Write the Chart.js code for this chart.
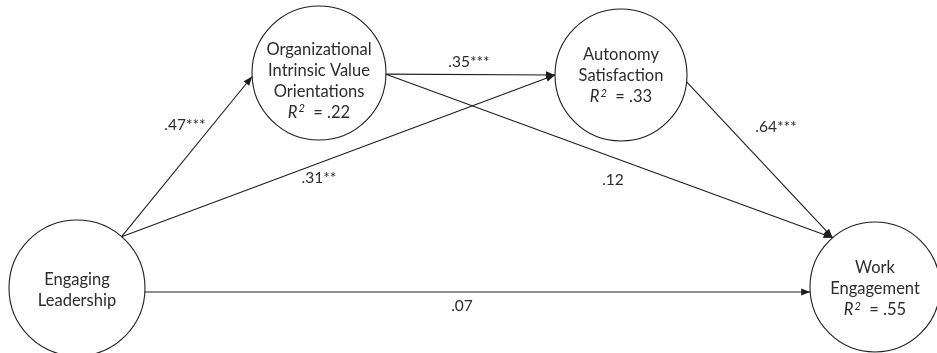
<!DOCTYPE html>
<html>
<head>
<meta charset="utf-8">
<script src="https://cdn.jsdelivr.net/npm/chart.js@4/dist/chart.umd.min.js"></script>
<style>
  html, body { margin: 0; padding: 0; background: #ffffff; }
  #wrap { width: 937px; height: 353px; }
</style>
</head>
<body>
<div id="wrap"><canvas id="pathModel" width="937" height="353"></canvas></div>
<script>
// Constructs in the mediation model
const nodeNames = [
  ['Engaging', 'Leadership'],
  ['Organizational', 'Intrinsic Value', 'Orientations'],
  ['Autonomy', 'Satisfaction'],
  ['Work', 'Engagement']
];
const rSquared = [null, '.22', '.33', '.55'];

// Structural paths: source node, target node, standardized coefficient
const pathFrom = [0, 0, 1, 1, 2, 0];
const pathTo   = [1, 2, 2, 3, 3, 3];
const pathCoef = ['.47***', '.31**', '.35***', '.12', '.64***', '.07'];

// ---- layout (diagram space, 1 unit = 1 px, y grows downward) ----
const nodeX = [77, 319, 621, 875];
const nodeY = [288, 73, 75, 287];
const nodeR = [68, 67, 66, 65];
const textShift = [2, 8, 1, 2];
// port angles (deg) where each path leaves its source and meets its target
const portOut = [-49, -49, 1, 1, 6, 3.4];
const portIn  = [177, 180, 180, -130.7, -130.7, 175.6];
// coefficient label anchors
const labelX = [185, 319, 469, 613, 776, 462];
const labelY = [125, 178, 62, 180, 127, 306];

const INK = '#1e1e1e';
const TEXT = '#2c2c2c';
const FONT = 'Lato, "Open Sans", sans-serif';

function port(n, deg) {
  const a = deg * Math.PI / 180;
  return { x: nodeX[n] + nodeR[n] * Math.cos(a), y: nodeY[n] + nodeR[n] * Math.sin(a) };
}

const edgeSets = pathFrom.map((f, i) => {
  const a = port(f, portOut[i]);
  const b = port(pathTo[i], portIn[i]);
  return {
    type: 'line',
    label: pathCoef[i],
    data: [a, b],
    showLine: true,
    borderColor: INK,
    borderWidth: 1.1,
    pointRadius: 0,
    fill: false,
    clip: false,
    order: 2
  };
});

const nodeSet = {
  type: 'scatter',
  label: 'nodes',
  data: nodeX.map((x, i) => ({ x, y: nodeY[i] })),
  pointRadius: nodeR,
  pointHoverRadius: nodeR,
  pointBackgroundColor: '#ffffff',
  pointBorderColor: INK,
  pointBorderWidth: 1.1,
  clip: false,
  order: 3
};

// arrowheads at the end of each path
const arrowPlugin = {
  id: 'arrowHeads',
  afterDatasetsDraw(chart) {
    const ctx = chart.ctx;
    ctx.save();
    ctx.fillStyle = INK;
    edgeSets.forEach((_, i) => {
      const meta = chart.getDatasetMeta(i + 1);
      const p0 = meta.data[0], p1 = meta.data[1];
      const ang = Math.atan2(p1.y - p0.y, p1.x - p0.x);
      const len = 9, half = 3.6;
      ctx.beginPath();
      ctx.moveTo(p1.x, p1.y);
      ctx.lineTo(p1.x - len * Math.cos(ang) + half * Math.sin(ang), p1.y - len * Math.sin(ang) - half * Math.cos(ang));
      ctx.lineTo(p1.x - len * Math.cos(ang) - half * Math.sin(ang), p1.y - len * Math.sin(ang) + half * Math.cos(ang));
      ctx.closePath();
      ctx.fill();
    });
    ctx.restore();
  }
};

// construct names, R² values and path coefficients
const textPlugin = {
  id: 'diagramText',
  afterDraw(chart) {
    const ctx = chart.ctx;
    const xs = chart.scales.x, ys = chart.scales.y;
    ctx.save();
    ctx.fillStyle = TEXT;
    ctx.textBaseline = 'middle';
    const lh = 21;
    nodeNames.forEach((lines, n) => {
      const all = lines.length + (rSquared[n] ? 1 : 0);
      const cx = xs.getPixelForValue(nodeX[n]);
      const cy = ys.getPixelForValue(nodeY[n]) + textShift[n];
      const top = cy - (all - 1) * lh / 2;
      ctx.textAlign = 'center';
      ctx.font = '16.5px ' + FONT;
      lines.forEach((t, k) => ctx.fillText(t, cx, top + k * lh));
      if (rSquared[n]) {
        const y = top + lines.length * lh;
        const rest = '  = ' + rSquared[n];
        ctx.font = 'italic 16.5px ' + FONT;
        const wR = ctx.measureText('R').width;
        ctx.font = 'italic 11px ' + FONT;
        const w2 = ctx.measureText('2').width;
        ctx.font = '16.5px ' + FONT;
        const wRest = ctx.measureText(rest).width;
        let x = cx - (wR + w2 + 1 + wRest) / 2;
        ctx.textAlign = 'left';
        ctx.font = 'italic 16.5px ' + FONT;
        ctx.fillText('R', x, y);
        x += wR + 1;
        ctx.font = 'italic 11px ' + FONT;
        ctx.fillText('2', x, y - 4);
        x += w2;
        ctx.font = '16.5px ' + FONT;
        ctx.fillText(rest, x, y);
      }
    });
    ctx.textAlign = 'center';
    ctx.font = '15.5px ' + FONT;
    pathCoef.forEach((t, i) => {
      ctx.fillText(t, xs.getPixelForValue(labelX[i]), ys.getPixelForValue(labelY[i]));
    });
    ctx.restore();
  }
};

new Chart(document.getElementById('pathModel'), {
  type: 'scatter',
  data: { datasets: [nodeSet, ...edgeSets] },
  options: {
    responsive: false,
    devicePixelRatio: 1,
    animation: false,
    events: [],
    layout: { padding: 0, autoPadding: false },
    scales: {
      x: { type: 'linear', min: 0, max: 937, display: false },
      y: { type: 'linear', min: 0, max: 353, reverse: true, display: false }
    },
    plugins: { legend: { display: false }, tooltip: { enabled: false } }
  },
  plugins: [arrowPlugin, textPlugin]
});
</script>
</body>
</html>
